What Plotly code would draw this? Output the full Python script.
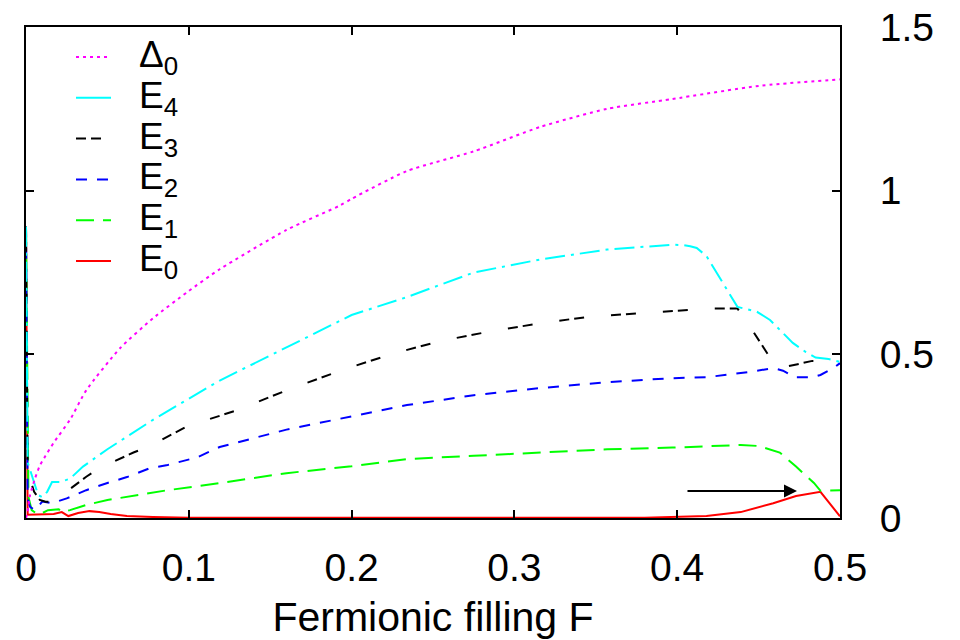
import plotly.graph_objects as go

# ---------------- data ----------------
F_D0 = [0.0, 0.001, 0.0025, 0.0055, 0.0085, 0.012, 0.017, 0.027, 0.037, 0.058, 0.078,
        0.099, 0.119, 0.16, 0.193, 0.2, 0.234, 0.275, 0.316, 0.357, 0.397, 0.45, 0.5]
D0 = [0.0, 0.02, 0.07, 0.12, 0.16, 0.19, 0.23, 0.30, 0.39, 0.52, 0.61,
      0.69, 0.76, 0.88, 0.955, 0.975, 1.06, 1.12, 1.195, 1.25, 1.28, 1.32, 1.34]

F_E4 = [0.0, 0.001, 0.0025, 0.005, 0.0075, 0.01, 0.013, 0.016, 0.021, 0.027, 0.035, 0.05,
        0.078, 0.119, 0.16, 0.2, 0.234, 0.275, 0.316, 0.357, 0.397, 0.403, 0.408, 0.412,
        0.418, 0.428, 0.437, 0.449, 0.457, 0.471, 0.479, 0.485, 0.493, 0.5]
E4 = [0.89, 0.17, 0.147, 0.107, 0.07, 0.064, 0.08, 0.11, 0.11, 0.12, 0.157, 0.21,
      0.30, 0.42, 0.52, 0.62, 0.675, 0.75, 0.79, 0.82, 0.835, 0.834, 0.83, 0.825,
      0.80, 0.72, 0.645, 0.63, 0.605, 0.535, 0.507, 0.49, 0.486, 0.477]

F_E3 = [0.0, 0.001, 0.005, 0.0085, 0.012, 0.016, 0.019, 0.022, 0.037, 0.045, 0.066, 0.076,
        0.099, 0.13, 0.16, 0.193, 0.224, 0.254, 0.285, 0.316, 0.346, 0.388, 0.42, 0.437,
        0.446, 0.457, 0.465, 0.474, 0.483, 0.492, 0.5]
E3 = [0.89, 0.14, 0.08, 0.055, 0.05, 0.05, 0.06, 0.07, 0.126, 0.152, 0.20, 0.22,
      0.28, 0.33, 0.39, 0.45, 0.50, 0.54, 0.57, 0.595, 0.615, 0.63, 0.64, 0.64,
      0.575, 0.49, 0.46, 0.47, 0.48, 0.48, 0.477]

F_E2 = [0.0, 0.001, 0.0025, 0.0055, 0.01, 0.016, 0.025, 0.037, 0.05, 0.062, 0.076, 0.087,
        0.105, 0.119, 0.16, 0.2, 0.234, 0.275, 0.316, 0.357, 0.396, 0.418, 0.444, 0.459,
        0.465, 0.472, 0.483, 0.488, 0.496, 0.5]
E2 = [0.89, 0.06, 0.034, 0.024, 0.05, 0.045, 0.06, 0.085, 0.107, 0.125, 0.152, 0.162,
      0.185, 0.217, 0.27, 0.31, 0.345, 0.375, 0.397, 0.415, 0.427, 0.43, 0.446, 0.458,
      0.45, 0.43, 0.43, 0.437, 0.458, 0.473]

F_E1 = [0.0, 0.0015, 0.0035, 0.0075, 0.01, 0.0135, 0.02, 0.0225, 0.027, 0.037, 0.05, 0.068,
        0.087, 0.107, 0.16, 0.2, 0.234, 0.275, 0.316, 0.357, 0.397, 0.439, 0.45, 0.463,
        0.473, 0.484, 0.488, 0.494, 0.5]
E1 = [0.89, 0.064, 0.024, 0.01, 0.015, 0.024, 0.027, 0.018, 0.024, 0.04, 0.055, 0.07,
      0.085, 0.098, 0.137, 0.158, 0.18, 0.19, 0.20, 0.21, 0.215, 0.223, 0.22, 0.20,
      0.157, 0.107, 0.083, 0.085, 0.085]

F_E0 = [0.0, 0.001, 0.017, 0.022, 0.026, 0.032, 0.039, 0.045, 0.052, 0.062, 0.078, 0.1,
        0.38, 0.418, 0.439, 0.459, 0.473, 0.488, 0.5]
E0 = [0.89, 0.01, 0.012, 0.018, 0.006, 0.015, 0.021, 0.018, 0.012, 0.006, 0.003, 0.001,
      0.001, 0.006, 0.018, 0.045, 0.067, 0.08, 0.005]

X_TICKS = [0, 0.1, 0.2, 0.3, 0.4, 0.5]
X_TICKTEXT = ["0", "0.1", "0.2", "0.3", "0.4", "0.5"]
Y_TICKS = [0, 0.5, 1, 1.5]
Y_TICKTEXT = ["0", "0.5", "1", "1.5"]

NAMES = ["Δ<sub>0</sub>", "E<sub>4</sub>", "E<sub>3</sub>", "E<sub>2</sub>", "E<sub>1</sub>", "E<sub>0</sub>"]

# ---------------- styles ----------------
FONT = "Liberation Sans, Arial, Helvetica, sans-serif"
styles = [
    dict(color="#ff00ff", dash="3px,4px", shape="spline"),
    dict(color="#00ffff", dash="20px,6px,3px,6px", shape="linear"),
    dict(color="#000000", dash="10px,5px,10px,27px", shape="linear"),
    dict(color="#0000ff", dash="11px,10px", shape="linear"),
    dict(color="#00ff00", dash="18px,9px", shape="linear"),
    dict(color="#ff0000", dash="solid", shape="linear"),
]
legend_dash = ["3px,4px", "solid", "10px,5px,10px,27px", "11px,10px", "18px,9px", "solid"]

series = [(F_D0, D0), (F_E4, E4), (F_E3, E3), (F_E2, E2), (F_E1, E1), (F_E0, E0)]

fig = go.Figure()
# draw in reverse so E0 ends on top like the reference
for (xs, ys), st, nm in reversed(list(zip(series, styles, NAMES))):
    fig.add_trace(go.Scatter(x=xs, y=ys, mode="lines", name=nm, showlegend=False,
                             line=dict(color=st["color"], dash=st["dash"], width=2,
                                       shape=st["shape"], smoothing=0.6)))

# plot area in pixels
L, R, T, B = 26, 840, 27, 518
W, H = 960, 640


def px2paper_x(px):
    return (px - L) / (R - L)


def px2paper_y(py):
    return (B - py) / (B - T)


shapes = []
annotations = []
row0, dy = 57, 40.8
for i, (st, nm) in enumerate(zip(styles, NAMES)):
    yy = row0 + i * dy
    shapes.append(dict(type="line", xref="paper", yref="paper",
                       x0=px2paper_x(76), x1=px2paper_x(111),
                       y0=px2paper_y(yy), y1=px2paper_y(yy),
                       line=dict(color=st["color"], dash=legend_dash[i], width=2)))
    annotations.append(dict(xref="paper", yref="paper", x=px2paper_x(137), y=px2paper_y(yy),
                            text=nm, showarrow=False, xanchor="left", yanchor="middle",
                            font=dict(family=FONT, size=37, color="black")))

# arrow
annotations.append(dict(x=0.4736, y=0.0825, ax=0.4054, ay=0.0825, xref="x", yref="y",
                        axref="x", ayref="y", text="", showarrow=True, arrowhead=2,
                        arrowsize=1.3, arrowwidth=2, arrowcolor="black"))

fig.update_layout(
    width=W, height=H,
    margin=dict(l=L, r=W - R, t=T, b=H - B, autoexpand=False),
    paper_bgcolor="white", plot_bgcolor="white",
    font=dict(family=FONT, size=39, color="black"),
    shapes=shapes, annotations=annotations,
    xaxis=dict(range=[0, 0.5], tickvals=X_TICKS, ticktext=X_TICKTEXT, automargin=False,
               ticks="inside", ticklen=8, tickwidth=1.5, tickcolor="black",
               showline=True, linewidth=2, linecolor="black", mirror="ticks",
               showgrid=False, zeroline=False, ticklabelstandoff=14,
               tickfont=dict(size=39),
               title=dict(text="Fermionic filling F", font=dict(size=41), standoff=16)),
    yaxis=dict(range=[0, 1.5], tickvals=Y_TICKS, ticktext=Y_TICKTEXT, side="right",
               automargin=False,
               ticks="inside", ticklen=8, tickwidth=1.5, tickcolor="black",
               showline=True, linewidth=2, linecolor="black", mirror="ticks",
               showgrid=False, zeroline=False, ticklabelstandoff=30,
               tickfont=dict(size=39)),
)

fig.write_html("out.html", config={"displayModeBar": False},
               post_script="document.body.style.margin='0px';")
